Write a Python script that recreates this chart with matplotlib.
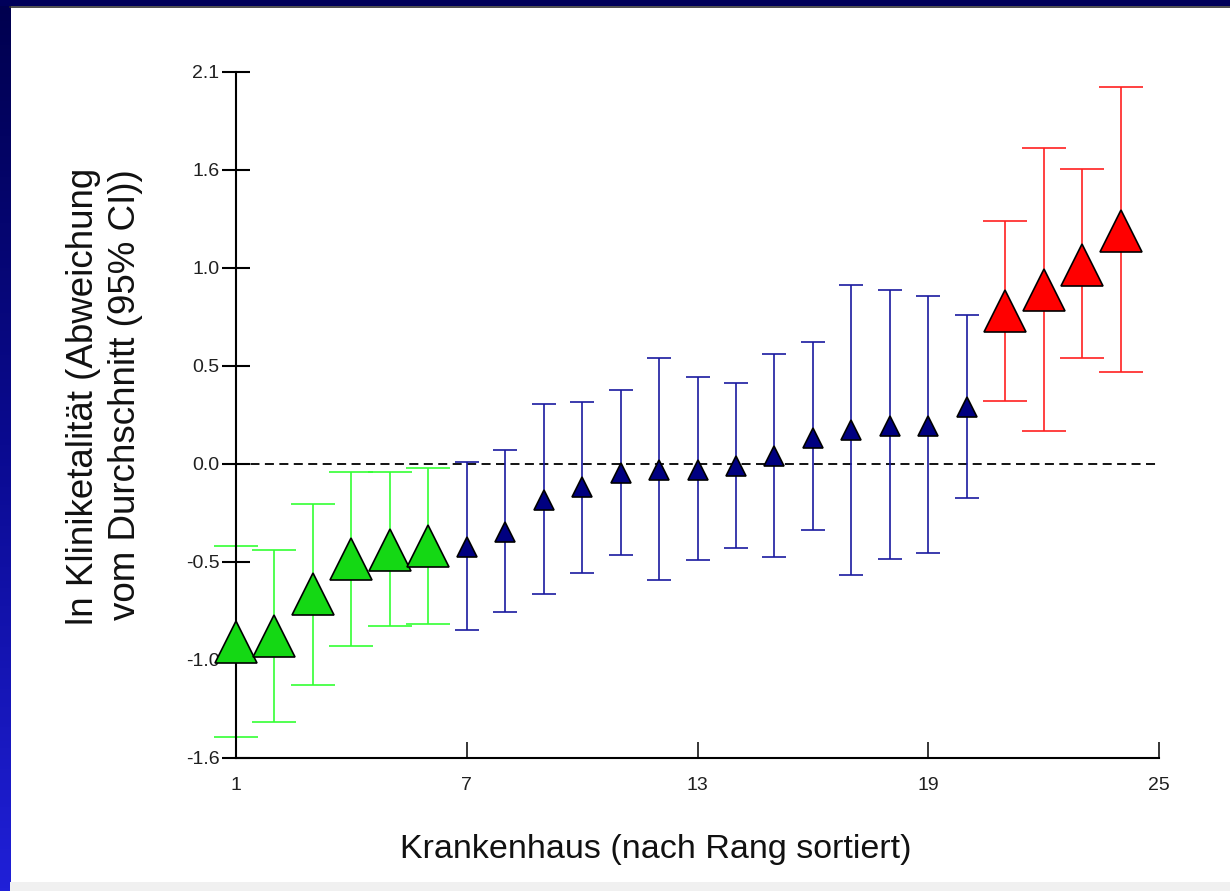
import numpy as np
import matplotlib
matplotlib.use("Agg")
import matplotlib.pyplot as plt

plt.rcParams['font.family'] = ['Liberation Sans', 'DejaVu Sans']

# ---- data ----
rank = list(range(1, 25))
estimate = [-0.906, -0.880, -0.663, -0.487, -0.439, -0.418, -0.421, -0.349,
            -0.184, -0.119, -0.046, -0.030, -0.030, -0.008, 0.041, 0.135,
            0.171, 0.194, 0.194, 0.291, 0.780, 0.890, 1.015, 1.191]
ci_low = [-1.393, -1.316, -1.128, -0.929, -0.827, -0.816, -0.847, -0.755,
          -0.663, -0.556, -0.464, -0.592, -0.490, -0.429, -0.474, -0.337,
          -0.566, -0.485, -0.454, -0.173, 0.321, 0.168, 0.541, 0.469]
ci_high = [-0.418, -0.439, -0.204, -0.041, -0.041, -0.020, 0.010, 0.071,
           0.306, 0.316, 0.378, 0.541, 0.444, 0.413, 0.561, 0.622,
           0.913, 0.888, 0.857, 0.760, 1.240, 1.612, 1.505, 1.923]
group = ['low'] * 6 + ['mid'] * 14 + ['high'] * 4

x_ticks = [1, 7, 13, 19, 25]
y_ticks = [-1.5, -1.0, -0.5, 0.0, 0.5, 1.0, 1.5, 2.0]
y_ticklabels = ['-1.6', '-1.0', '-0.5', '0.0', '0.5', '1.0', '1.6', '2.1']

xlabel = 'Krankenhaus (nach Rang sortiert)'
ylabel_line1 = 'ln Kliniketalität (Abweichung'
ylabel_line2 = 'vom Durchschnitt (95% CI))'

styles = {
    'low':  dict(face='#14d814', line='#33ff33', ms=30, cap=15.5),
    'mid':  dict(face='#000080', line='#1a1aa0', ms=15, cap=8.4),
    'high': dict(face='#ff0000', line='#ff2020', ms=30, cap=16),
}

W, H = 1230, 891
fig = plt.figure(figsize=(W / 100, H / 100), dpi=100)
fig.patch.set_facecolor('white')

# ---- border decorations ----
grad = np.linspace(0, 1, 256).reshape(-1, 1)
from matplotlib.colors import LinearSegmentedColormap
cm_left = LinearSegmentedColormap.from_list('l', ['#00004e', '#0a0a90', '#2020d8'])
axl = fig.add_axes([0, 0, 10 / W, 1])
axl.imshow(grad, aspect='auto', cmap=cm_left, origin='upper')
axl.set_axis_off()
axt = fig.add_axes([0, 1 - 6 / H, 1, 6 / H])
axt.set_facecolor('#00005a')
axt.set_xticks([]); axt.set_yticks([])
for s in axt.spines.values():
    s.set_visible(False)
fig.add_artist(plt.Line2D([10 / W, 1], [1 - 7 / H, 1 - 7 / H], color='#303030', lw=1.2))
axb = fig.add_axes([10 / W, 0, 1 - 10 / W, 9 / H])
axb.set_facecolor('#f0f0f0')
axb.set_xticks([]); axb.set_yticks([])
for s in axb.spines.values():
    s.set_visible(False)

# ---- main axes ----
left, right = 236 / W, 1159 / W
bottom, top = (H - 758) / H, (H - 72) / H
ax = fig.add_axes([left, bottom, right - left, top - bottom])
ax.set_facecolor('none')
ax.set_xlim(1, 25)
ax.set_ylim(-1.5, 2.0)

ax.axhline(0, color='black', lw=1.3, dashes=(5, 3), zorder=1)

for g in ['low', 'mid', 'high']:
    st = styles[g]
    idx = [i for i, gg in enumerate(group) if gg == g]
    xs = np.array([rank[i] for i in idx])
    ys = np.array([estimate[i] for i in idx])
    lo = np.array([ci_low[i] for i in idx])
    hi = np.array([ci_high[i] for i in idx])
    ax.errorbar(xs, ys, yerr=[ys - lo, hi - ys], fmt='none', ecolor=st['line'],
                elinewidth=1.2, capsize=st['cap'], capthick=1.2, zorder=2,
                clip_on=False)
for g in ['low', 'mid', 'high']:
    st = styles[g]
    idx = [i for i, gg in enumerate(group) if gg == g]
    xs = [rank[i] for i in idx]
    ys = [estimate[i] for i in idx]
    ax.plot(xs, ys, linestyle='none', marker='^', ms=st['ms'],
            markerfacecolor=st['face'], markeredgecolor='black',
            markeredgewidth=1.2, zorder=3, clip_on=False)

for s in ['top', 'right']:
    ax.spines[s].set_visible(False)
for s in ['left', 'bottom']:
    ax.spines[s].set_linewidth(1.5)
    ax.spines[s].set_color('black')

ax.set_yticks(y_ticks)
ax.set_yticklabels(y_ticklabels)
ax.set_xticks(x_ticks)
ax.set_xticklabels([str(t) for t in x_ticks])
ax.tick_params(axis='y', direction='inout', length=20, width=1.5, pad=2,
               labelsize=14, labelcolor='#202020')
ax.tick_params(axis='x', direction='in', length=11.5, width=1.1, pad=14,
               labelsize=14, labelcolor='#202020')

fig.text(656 / W, (H - 858) / H, xlabel, ha='center', va='baseline',
         fontsize=24.5, color='#111111')
fig.text(93 / W, (H - 396) / H, ylabel_line1, rotation=90, rotation_mode='anchor',
         ha='center', va='baseline', fontsize=26.5, color='#111111')
fig.text(135 / W, (H - 395) / H, ylabel_line2, rotation=90, rotation_mode='anchor',
         ha='center', va='baseline', fontsize=26.5, color='#111111')

fig.savefig('out.png', dpi=100)
